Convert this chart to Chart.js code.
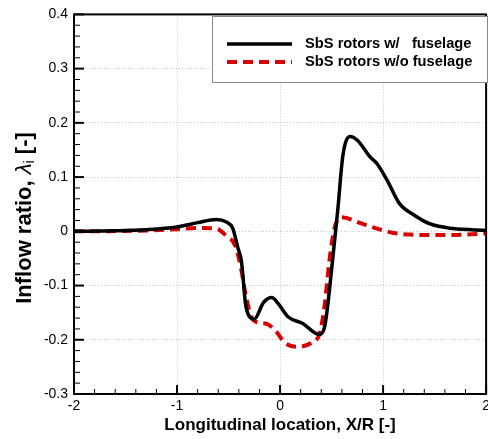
<!DOCTYPE html>
<html>
<head>
<meta charset="utf-8">
<script src="https://cdn.jsdelivr.net/npm/chart.js@4.4.1/dist/chart.umd.min.js"></script>
<style>
  html, body { margin: 0; padding: 0; background: #fff; overflow: hidden; }
</style>
</head>
<body>
<canvas id="grafico" width="494" height="439"></canvas>
<script>
// SbS rotors with fuselage
const comX = [-2.0, -1.6, -1.3, -1.0, -0.8, -0.62, -0.52, -0.46, -0.41, -0.375, -0.33, -0.25, -0.16, -0.08, -0.02, 0.08, 0.22, 0.38, 0.43, 0.51, 0.56, 0.61, 0.68, 0.75, 0.875, 0.94, 1.04, 1.16, 1.30, 1.45, 1.68, 2.0]
const comY = [0, 0.001, 0.003, 0.008, 0.016, 0.022, 0.017, 0.006, -0.03, -0.055, -0.14, -0.162, -0.131, -0.122, -0.133, -0.158, -0.17, -0.19, -0.178, -0.053, 0.039, 0.14, 0.175, 0.168, 0.137, 0.125, 0.094, 0.051, 0.030, 0.014, 0.005, 0.002]
// SbS rotors without fuselage
const semX = [-2.0, -1.4, -1.0, -0.8, -0.62, -0.53, -0.43, -0.375, -0.33, -0.26, -0.14, -0.05, 0.05, 0.17, 0.30, 0.385, 0.43, 0.48, 0.53, 0.6, 0.78, 0.94, 1.1, 1.26, 1.6, 2.0]
const semY = [0, 0.001, 0.004, 0.006, 0.005, -0.007, -0.029, -0.072, -0.121, -0.164, -0.17, -0.182, -0.206, -0.213, -0.206, -0.188, -0.14, -0.053, 0.007, 0.026, 0.015, 0.005, -0.003, -0.006, -0.007, -0.004]

const xTicks = [-2, -1, 0, 1, 2]
const xTickLabels = ['-2', '-1', '0', '1', '2']
const yTicks = [-0.3, -0.2, -0.1, 0, 0.1, 0.2, 0.3, 0.4]
const yTickLabels = ['-0.3', '-0.2', '-0.1', '0', '0.1', '0.2', '0.3', '0.4']

const fonte = "'Liberation Sans', Arial, sans-serif"
Chart.defaults.font.family = fonte
Chart.defaults.color = '#000'

const pontos = (xs, ys) => xs.map((x, i) => ({ x: x, y: ys[i] }))

// frame, inward ticks, legend and y title
const extras = {
  id: 'extras',
  afterDraw(chart) {
    const ctx = chart.ctx
    const a = chart.chartArea
    const sx = chart.scales.x
    const sy = chart.scales.y
    ctx.save()
    ctx.strokeStyle = '#000'
    ctx.lineCap = 'butt'

    // ticks x
    for (let i = 0; i < xTicks.length; i++) {
      const px = sx.getPixelForValue(xTicks[i])
      ctx.lineWidth = 2
      ctx.beginPath(); ctx.moveTo(px, a.bottom); ctx.lineTo(px, a.bottom - 9); ctx.stroke()
      if (i < xTicks.length - 1) {
        const d = (xTicks[i + 1] - xTicks[i]) / 5
        ctx.lineWidth = 1
        for (let k = 1; k < 5; k++) {
          const m = sx.getPixelForValue(xTicks[i] + k * d)
          ctx.beginPath(); ctx.moveTo(m, a.bottom); ctx.lineTo(m, a.bottom - 5); ctx.stroke()
        }
      }
    }
    // ticks y
    for (let i = 0; i < yTicks.length; i++) {
      const py = sy.getPixelForValue(yTicks[i])
      ctx.lineWidth = 2
      ctx.beginPath(); ctx.moveTo(a.left, py); ctx.lineTo(a.left + 10, py); ctx.stroke()
      if (i < yTicks.length - 1) {
        const d = (yTicks[i + 1] - yTicks[i]) / 5
        ctx.lineWidth = 1
        for (let k = 1; k < 5; k++) {
          const m = sy.getPixelForValue(yTicks[i] + k * d)
          ctx.beginPath(); ctx.moveTo(a.left, m); ctx.lineTo(a.left + 6, m); ctx.stroke()
        }
      }
    }

    // frame
    ctx.lineWidth = 2
    ctx.strokeRect(a.left, a.top, a.right - a.left, a.bottom - a.top)

    // legend
    const bx = 212.5, by = 16.5, bw = 275, bh = 66
    ctx.fillStyle = '#fff'
    ctx.fillRect(bx, by, bw, bh)
    ctx.strokeStyle = '#888'
    ctx.lineWidth = 1
    ctx.strokeRect(bx, by, bw, bh)
    const linhas = [44, 62]
    chart.data.datasets.forEach((ds, i) => {
      const y = linhas[i]
      ctx.strokeStyle = ds.borderColor
      ctx.lineWidth = ds.borderWidth
      ctx.setLineDash(ds.borderDash || [])
      ctx.beginPath(); ctx.moveTo(227, y); ctx.lineTo(292, y); ctx.stroke()
      ctx.setLineDash([])
      ctx.fillStyle = '#000'
      ctx.font = 'bold 14.7px ' + fonte
      ctx.textBaseline = 'middle'
      ctx.textAlign = 'left'
      ctx.fillText(ds.label, 305, y)
    })

    // y title
    const partes = [
      { t: 'Inflow ratio, ', f: 'bold 22px ' + fonte, dy: 0 },
      { t: 'λ', f: 'italic 22px ' + fonte, dy: 0 },
      { t: 'i', f: '14px ' + fonte, dy: 5 },
      { t: ' [-]', f: 'bold 22px ' + fonte, dy: 0 }
    ]
    let total = 0
    partes.forEach(p => { ctx.font = p.f; p.w = ctx.measureText(p.t).width; total += p.w })
    ctx.translate(25, 218)
    ctx.rotate(-Math.PI / 2)
    ctx.textBaseline = 'middle'
    ctx.textAlign = 'left'
    ctx.fillStyle = '#000'
    let cx = -total / 2
    partes.forEach(p => { ctx.font = p.f; ctx.fillText(p.t, cx, p.dy); cx += p.w })
    ctx.restore()
  }
}

new Chart(document.getElementById('grafico'), {
  type: 'line',
  data: {
    datasets: [{
      label: 'SbS rotors w/   fuselage',
      data: pontos(comX, comY),
      borderColor: '#000',
      borderWidth: 3.5,
      pointRadius: 0,
      cubicInterpolationMode: 'monotone'
    }, {
      label: 'SbS rotors w/o fuselage',
      data: pontos(semX, semY),
      borderColor: '#d90000',
      borderWidth: 4,
      borderDash: [10, 6],
      pointRadius: 0,
      cubicInterpolationMode: 'monotone'
    }]
  },
  options: {
    responsive: false,
    animation: false,
    layout: { padding: { top: 14, right: 4, left: 0, bottom: 0 } },
    plugins: { legend: { display: false }, tooltip: { enabled: false } },
    scales: {
      x: {
        type: 'linear',
        min: -2, max: 2,
        afterBuildTicks: s => { s.ticks = xTicks.map(v => ({ value: v })) },
        afterFit: s => { s.height = 45 },
        ticks: { padding: 4, font: { size: 14 }, callback: (v, i) => xTickLabels[i] },
        grid: { color: '#c4c4c4', lineWidth: 1, drawTicks: false },
        border: { display: false, dash: [1, 2] },
        title: {
          display: true,
          text: 'Longitudinal location, X/R [-]',
          font: { size: 17, weight: 'bold', lineHeight: 1.2 },
          padding: { top: 0, bottom: 3 }
        }
      },
      y: {
        min: -0.3, max: 0.4,
        afterBuildTicks: s => { s.ticks = yTicks.map(v => ({ value: v })) },
        afterFit: s => { s.width = 74 },
        ticks: { padding: 6, font: { size: 14 }, callback: (v, i) => yTickLabels[i] },
        grid: { color: '#c4c4c4', lineWidth: 1, drawTicks: false },
        border: { display: false, dash: [1, 2] }
      }
    }
  },
  plugins: [extras]
})
</script>
</body>
</html>
